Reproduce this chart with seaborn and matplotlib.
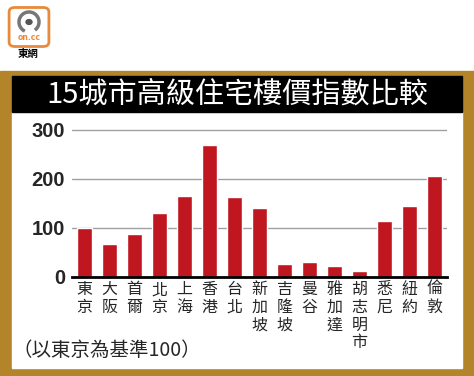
import seaborn as sns
import matplotlib.pyplot as plt
import pandas as pd
from matplotlib.patches import Rectangle, FancyBboxPatch, Circle, Arc

# data (Tokyo = 100)
cities = ["東京", "大阪", "首爾", "北京", "上海", "香港", "台北", "新加坡",
          "吉隆坡", "曼谷", "雅加達", "胡志明市", "悉尼", "紐約", "倫敦"]
index_values = [100, 67, 88, 130, 165, 269, 164, 140, 26, 31, 23, 13, 115, 144, 207]
y_ticks = [0, 100, 200, 300]

title = "15城市高級住宅樓價指數比較"
note = "（以東京為基準100）"

sns.set_style("white")
plt.rcParams['font.family'] = ['Noto Sans CJK TC', 'DejaVu Sans']

W, H = 474, 376
fig = plt.figure(figsize=(W / 100, H / 100), dpi=100)
fig.patch.set_facecolor("white")

def px_rect(x0, y0, x1, y1, color, z=0):
    # rectangle given in pixel coords (top-left origin)
    fig.patches.append(Rectangle((x0 / W, 1 - y1 / H), (x1 - x0) / W, (y1 - y0) / H,
                                 transform=fig.transFigure, color=color, zorder=z))

gold = "#B3842A"
px_rect(0, 71, W, H, gold)
px_rect(12, 112, 462, 368, "white", 1)
px_rect(12, 76, 462, 112, "black", 1)

fig.text(237 / W, 1 - 95 / H, title, color="white", fontsize=21,
         ha="center", va="center", zorder=3)

# logo
fig.patches.append(FancyBboxPatch((11 / W, 1 - 45 / H), 36 / W, 36 / H,
                                  boxstyle="round,pad=0.004,rounding_size=0.012",
                                  transform=fig.transFigure, facecolor="white",
                                  edgecolor="#E88A3C", linewidth=2, zorder=2))
fig.patches.append(Arc((29 / W, 1 - 22 / H), 20 / W, 20 / H, theta1=-60, theta2=250,
                       transform=fig.transFigure, color="#777777", linewidth=2.5, zorder=3))
fig.patches.append(Circle((29 / W, 1 - 22 / H), 3 / W, transform=fig.transFigure,
                          color="#555555", zorder=3))
fig.text(29 / W, 1 - 38 / H, "on.cc", color="#E88A3C", fontsize=5.5,
         ha="center", va="center", weight="bold", family="DejaVu Sans")
fig.text(28 / W, 1 - 54 / H, "東網", color="black", fontsize=7.5,
         ha="center", va="center", weight="bold")

# main chart
ax = fig.add_axes([72 / W, 1 - 277 / H, 375 / W, 152 / H])
ax.set_zorder(5)
ax.set_facecolor("none")
df = pd.DataFrame({"city": cities, "value": index_values})
sns.barplot(data=df, x="city", y="value", color="#C0161F", width=0.6,
            saturation=1, ax=ax, zorder=3)
ax.set_xlim(-0.5, len(cities) - 0.5)
ax.set_ylim(0, 310)
ax.set_yticks(y_ticks)
ax.set_yticklabels([str(t) for t in y_ticks], fontsize=14.5, weight="bold",
                   family="Liberation Sans")
ax.set_xticks(range(len(cities)))
ax.set_xticklabels(["\n".join(c) for c in cities], fontsize=11.5,
                   va="top", linespacing=1.05)
ax.tick_params(axis="both", length=0, pad=3)
ax.tick_params(axis="y", pad=5)
for t in y_ticks[1:]:
    ax.axhline(t, color="#A0A0A0", linewidth=1, zorder=1)
for s in ["top", "right", "left"]:
    ax.spines[s].set_visible(False)
ax.spines["bottom"].set_color("black")
ax.spines["bottom"].set_linewidth(2)
ax.spines["bottom"].set_zorder(4)
ax.set_xlabel("")
ax.set_ylabel("")

fig.text(13 / W, 1 - 350 / H, note, fontsize=14, ha="left", va="center", zorder=3)

fig.savefig("out.png", dpi=100)
